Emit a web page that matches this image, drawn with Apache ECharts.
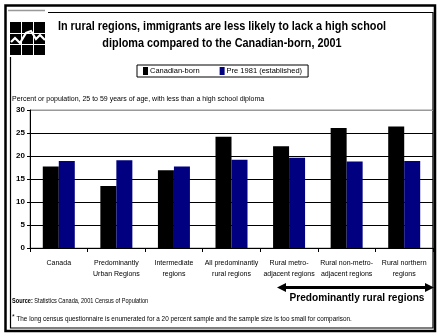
<!DOCTYPE html>
<html>
<head>
<meta charset="utf-8">
<script src="https://cdn.jsdelivr.net/npm/echarts@6/dist/echarts.min.js"></script>
<style>
  html, body { margin: 0; padding: 0; background: #fff; }
  #chart { width: 437px; height: 333px; }
</style>
</head>
<body>
<div id="chart"></div>
<script>
// Share of population aged 25-59 with less than a high school diploma, 2001
const categories = [
  'Canada',
  'Predominantly\nUrban Regions',
  'Intermediate\nregions',
  'All predominantly\nrural regions',
  'Rural metro-\nadjacent regions',
  'Rural non-metro-\nadjacent regions',
  'Rural northern\nregions'
];
const canadianBorn = [17.7, 13.5, 16.9, 24.2, 22.1, 26.1, 26.4];
const pre1981 = [18.9, 19.1, 17.7, 19.2, 19.6, 18.8, 18.9];
const seriesNames = ['Canadian-born', 'Pre 1981 (established)'];
const titleLines = [
  'In rural regions, immigrants are less likely to lack a high school',
  'diploma compared to the Canadian-born, 2001'
];

const FONT = "'Liberation Sans', Arial, sans-serif";

const chart = echarts.init(document.getElementById('chart'), null, { renderer: 'canvas' });

// Condensed-looking text: regular glyphs squeezed horizontally
function narrowText(x, y, text, font, align, squeeze, extra) {
  return {
    type: 'text', x: x, y: y, scaleX: squeeze, scaleY: 1,
    style: Object.assign({ text: text, font: font, fill: '#000', align: align, verticalAlign: 'middle' }, extra || {})
  };
}

// Statistics Canada style logo: black grid with a white zigzag
const logo = [
  { type: 'rect', shape: { x: 10, y: 22, width: 35, height: 33 }, style: { fill: '#000' } },
  { type: 'line', shape: { x1: 21.5, y1: 22, x2: 21.5, y2: 55 }, style: { stroke: '#fff', lineWidth: 1 } },
  { type: 'line', shape: { x1: 33.5, y1: 22, x2: 33.5, y2: 55 }, style: { stroke: '#fff', lineWidth: 1 } },
  { type: 'line', shape: { x1: 10, y1: 33.5, x2: 45, y2: 33.5 }, style: { stroke: '#fff', lineWidth: 1 } },
  { type: 'line', shape: { x1: 10, y1: 44.5, x2: 45, y2: 44.5 }, style: { stroke: '#fff', lineWidth: 1 } },
  { type: 'polyline', shape: { points: [[11, 42], [15, 38], [20, 43], [26, 33], [31, 31], [36, 39], [40, 35], [45, 40]] },
    style: { stroke: '#fff', lineWidth: 2.2, fill: null } }
];

// Page frame
const frame = [
  { type: 'rect', shape: { x: 5.5, y: 5.5, width: 429.5, height: 325.5 }, style: { fill: null, stroke: '#000', lineWidth: 2.5 } },
  { type: 'line', shape: { x1: 8, y1: 10.5, x2: 45, y2: 10.5 }, style: { stroke: '#999', lineWidth: 1.5 } },
  { type: 'polyline', shape: { points: [[48, 12.5], [433, 12.5], [433, 328], [10.5, 328], [10.5, 57]] },
    style: { fill: null, stroke: '#000', lineWidth: 1.2 } }
];

// Title
const titles = [
  narrowText(222, 27, titleLines[0], 'bold 12.5px ' + FONT, 'center', 0.87),
  narrowText(222, 44, titleLines[1], 'bold 12.5px ' + FONT, 'center', 0.87)
];

// Double-headed arrow grouping the rural region categories
const arrow = [
  { type: 'line', shape: { x1: 284, y1: 287.5, x2: 427, y2: 287.5 }, style: { stroke: '#000', lineWidth: 3 } },
  { type: 'polygon', shape: { points: [[277, 287.5], [286, 283], [286, 292]] }, style: { fill: '#000' } },
  { type: 'polygon', shape: { points: [[434, 287.5], [425, 283], [425, 292]] }, style: { fill: '#000' } },
  narrowText(357, 298, 'Predominantly rural regions', 'bold 11.5px ' + FONT, 'center', 0.88)
];

// Axis caption, source and footnote
const notes = [
  narrowText(12, 99, 'Percent or population, 25 to 59 years of age, with less than a high school diploma',
    '7px ' + FONT, 'left', 1),
  narrowText(12, 301, '{b|Source:} Statistics Canada, 2001 Census of Population', '6.5px ' + FONT, 'left', 0.86, {
    rich: { b: { fontWeight: 'bold', fontSize: 6.5, fontFamily: FONT } } }),
  narrowText(12, 319, '{s|*} The long census questionnaire is enumerated for a 20 percent sample and the sample size is too small for comparison.',
    '6.5px ' + FONT, 'left', 0.98, {
    rich: { s: { fontSize: 7, fontFamily: FONT, verticalAlign: 'top', padding: [0, 0, 4, 0] } } })
];

const option = {
  backgroundColor: '#fff',
  animation: false,
  textStyle: { fontFamily: FONT },
  legend: {
    data: seriesNames,
    left: 137, top: 65,
    orient: 'horizontal',
    itemWidth: 5, itemHeight: 8, itemGap: 20,
    borderColor: '#000', borderWidth: 1,
    padding: [2, 6, 2, 6],
    icon: 'rect',
    textStyle: { fontSize: 7.5, fontFamily: FONT, color: '#000', padding: [0, 0, 0, -3] }
  },
  grid: {
    left: 30, right: 4, top: 110, bottom: 85,
    show: true, borderColor: '#999', borderWidth: 1
  },
  xAxis: {
    type: 'category',
    data: categories,
    axisLine: { lineStyle: { color: '#000', width: 1 } },
    axisTick: { show: true, interval: 0, length: 4, lineStyle: { color: '#000' } },
    axisLabel: { interval: 0, fontSize: 7, fontFamily: FONT, color: '#000', lineHeight: 11, margin: 10 }
  },
  yAxis: {
    type: 'value',
    min: 0, max: 30, interval: 5,
    axisLine: { show: true, lineStyle: { color: '#000', width: 1 } },
    axisTick: { show: true, length: 3, lineStyle: { color: '#000' } },
    axisLabel: { fontSize: 8, fontWeight: 'bold', fontFamily: FONT, color: '#000', margin: 5 },
    splitLine: { show: true, lineStyle: { color: ['#000', '#000', '#000', '#000', '#000', '#000', '#999'], width: 1 } }
  },
  series: [
    { name: seriesNames[0], type: 'bar', data: canadianBorn, barWidth: 16, barGap: '0%',
      itemStyle: { color: '#000000' } },
    { name: seriesNames[1], type: 'bar', data: pre1981, barWidth: 16,
      itemStyle: { color: '#000080' } }
  ],
  graphic: [].concat(frame, logo, titles, arrow, notes)
};

chart.setOption(option);
</script>
</body>
</html>
